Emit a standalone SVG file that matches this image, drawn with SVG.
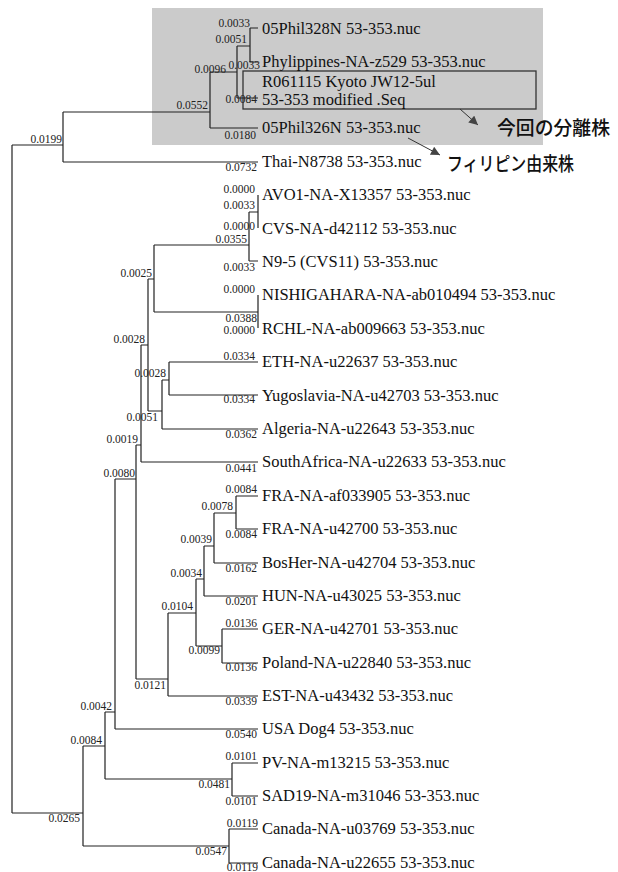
<svg xmlns="http://www.w3.org/2000/svg" width="618" height="872" viewBox="0 0 618 872">
<defs>
<style>
.edge{fill:none;stroke:#222;stroke-width:1.2}
.leaf{font-family:"Liberation Serif","Times New Roman",serif;font-size:16.5px;fill:#111}
.bl{font-family:"Liberation Serif","Times New Roman",serif;font-size:11.5px;fill:#222;text-anchor:end}
.jp{font-family:"Noto Sans CJK JP","Noto Sans",sans-serif;font-size:19px;font-weight:500;fill:#111}
.call{fill:none;stroke:#333;stroke-width:1}
</style>
<marker id="ah" viewBox="0 0 10 10" refX="10" refY="5" markerWidth="10" markerHeight="9" markerUnits="userSpaceOnUse" orient="auto">
<path d="M0,0 L10,5 L0,10 z" fill="#444"/>
</marker>
</defs>
<rect width="618" height="872" fill="#fff"/>
<g id="highlight">
<rect x="152" y="8" width="391" height="137" fill="#cbcbcb"/>
<rect x="243" y="71" width="293" height="38" fill="none" stroke="#333" stroke-width="1.3"/>
</g>
<g id="connectors">
<path class="edge" d="M12,145V813 M12,145H63 M12,813H83
M63,112V162 M63,112H210 M63,162H258
M210,72V128 M210,72H237 M210,128H258
M237,46V98 M237,46H250 M237,98H258
M250,28V62 M250,28H258 M250,62H258
M83,746V846 M83,746H105 M83,846H229
M229,829V863 M229,829H258 M229,863H258
M105,712V779 M105,712H115 M105,779H232
M232,763V796 M232,763H258 M232,796H258
M115,479V729 M115,479H136 M115,729H258
M136,445V679 M136,445H141 M136,679H168
M168,613V696 M168,613H196 M168,696H258
M196,579V646 M196,579H204 M196,646H222
M222,629V663 M222,629H258 M222,663H258
M204,546V596 M204,546H214 M204,596H258
M214,513V563 M214,513H236 M214,563H258
M236,496V529 M236,496H258 M236,529H258
M141,345V462 M141,345H148 M141,462H258
M148,279V411 M148,279H154 M148,411H162
M162,380V429 M162,380H169 M162,429H258
M169,362V395 M169,362H258 M169,395H258
M154,245V312 M154,245H249 M154,312H258
M258,295V328
M249,212V261 M249,212H258 M249,261H258
M258,195V228"/>
</g>
<g id="leaf-05Phil328N"><text class="leaf" x="262" y="34">05Phil328N 53-353.nuc</text></g>
<g id="leaf-Phylippines"><text class="leaf" x="262" y="67">Phylippines-NA-z529 53-353.nuc</text></g>
<g id="leaf-R061115"><text class="leaf" x="262" y="87">R061115 Kyoto JW12-5ul</text><text class="leaf" x="262" y="105">53-353 modified .Seq</text></g>
<g id="leaf-05Phil326N"><text class="leaf" x="262" y="133">05Phil326N 53-353.nuc</text></g>
<g id="leaf-Thai"><text class="leaf" x="262" y="167">Thai-N8738 53-353.nuc</text></g>
<g id="leaf-AVO1"><text class="leaf" x="262" y="200">AVO1-NA-X13357 53-353.nuc</text></g>
<g id="leaf-CVS"><text class="leaf" x="262" y="234">CVS-NA-d42112 53-353.nuc</text></g>
<g id="leaf-N9-5"><text class="leaf" x="262" y="267">N9-5 (CVS11) 53-353.nuc</text></g>
<g id="leaf-NISHIGAHARA"><text class="leaf" x="262" y="300">NISHIGAHARA-NA-ab010494 53-353.nuc</text></g>
<g id="leaf-RCHL"><text class="leaf" x="262" y="334">RCHL-NA-ab009663 53-353.nuc</text></g>
<g id="leaf-ETH"><text class="leaf" x="262" y="367">ETH-NA-u22637 53-353.nuc</text></g>
<g id="leaf-Yugoslavia"><text class="leaf" x="262" y="401">Yugoslavia-NA-u42703 53-353.nuc</text></g>
<g id="leaf-Algeria"><text class="leaf" x="262" y="434">Algeria-NA-u22643 53-353.nuc</text></g>
<g id="leaf-SouthAfrica"><text class="leaf" x="262" y="467">SouthAfrica-NA-u22633 53-353.nuc</text></g>
<g id="leaf-FRA-af033905"><text class="leaf" x="262" y="501">FRA-NA-af033905 53-353.nuc</text></g>
<g id="leaf-FRA-u42700"><text class="leaf" x="262" y="534">FRA-NA-u42700 53-353.nuc</text></g>
<g id="leaf-BosHer"><text class="leaf" x="262" y="568">BosHer-NA-u42704 53-353.nuc</text></g>
<g id="leaf-HUN"><text class="leaf" x="262" y="601">HUN-NA-u43025 53-353.nuc</text></g>
<g id="leaf-GER"><text class="leaf" x="262" y="634">GER-NA-u42701 53-353.nuc</text></g>
<g id="leaf-Poland"><text class="leaf" x="262" y="668">Poland-NA-u22840 53-353.nuc</text></g>
<g id="leaf-EST"><text class="leaf" x="262" y="701">EST-NA-u43432 53-353.nuc</text></g>
<g id="leaf-USA"><text class="leaf" x="262" y="734">USA Dog4 53-353.nuc</text></g>
<g id="leaf-PV"><text class="leaf" x="262" y="768">PV-NA-m13215 53-353.nuc</text></g>
<g id="leaf-SAD19"><text class="leaf" x="262" y="801">SAD19-NA-m31046 53-353.nuc</text></g>
<g id="leaf-Canada-u03769"><text class="leaf" x="262" y="834">Canada-NA-u03769 53-353.nuc</text></g>
<g id="leaf-Canada-u22655"><text class="leaf" x="262" y="868">Canada-NA-u22655 53-353.nuc</text></g>
<g id="branch-lengths">
<text class="bl" x="250" y="27">0.0033</text>
<text class="bl" x="247" y="43">0.0051</text>
<text class="bl" x="260" y="69">0.0033</text>
<text class="bl" x="226" y="73">0.0096</text>
<text class="bl" x="257" y="103">0.0084</text>
<text class="bl" x="208" y="109">0.0552</text>
<text class="bl" x="256" y="139">0.0180</text>
<text class="bl" x="62" y="143">0.0199</text>
<text class="bl" x="257" y="171">0.0732</text>
<text class="bl" x="255" y="193">0.0000</text>
<text class="bl" x="255" y="209">0.0033</text>
<text class="bl" x="255" y="230">0.0000</text>
<text class="bl" x="247" y="243">0.0355</text>
<text class="bl" x="255" y="271">0.0033</text>
<text class="bl" x="152" y="277">0.0025</text>
<text class="bl" x="255" y="293">0.0000</text>
<text class="bl" x="257" y="322">0.0388</text>
<text class="bl" x="255" y="334">0.0000</text>
<text class="bl" x="145" y="343">0.0028</text>
<text class="bl" x="255" y="360">0.0334</text>
<text class="bl" x="166" y="377">0.0028</text>
<text class="bl" x="255" y="403">0.0334</text>
<text class="bl" x="158" y="421">0.0051</text>
<text class="bl" x="257" y="438">0.0362</text>
<text class="bl" x="138" y="443">0.0019</text>
<text class="bl" x="257" y="472">0.0441</text>
<text class="bl" x="135" y="477">0.0080</text>
<text class="bl" x="257" y="493">0.0084</text>
<text class="bl" x="233" y="510">0.0078</text>
<text class="bl" x="257" y="538">0.0084</text>
<text class="bl" x="212" y="543">0.0039</text>
<text class="bl" x="257" y="572">0.0162</text>
<text class="bl" x="202" y="577">0.0034</text>
<text class="bl" x="257" y="605">0.0201</text>
<text class="bl" x="193" y="610">0.0104</text>
<text class="bl" x="257" y="627">0.0136</text>
<text class="bl" x="220" y="654">0.0099</text>
<text class="bl" x="257" y="671">0.0136</text>
<text class="bl" x="166" y="689">0.0121</text>
<text class="bl" x="257" y="705">0.0339</text>
<text class="bl" x="112" y="710">0.0042</text>
<text class="bl" x="257" y="738">0.0540</text>
<text class="bl" x="102" y="744">0.0084</text>
<text class="bl" x="257" y="760">0.0101</text>
<text class="bl" x="230" y="788">0.0481</text>
<text class="bl" x="257" y="805">0.0101</text>
<text class="bl" x="80" y="822">0.0265</text>
<text class="bl" x="258" y="827">0.0119</text>
<text class="bl" x="227" y="855">0.0547</text>
<text class="bl" x="258" y="871">0.0119</text>
</g>
<g id="callout-isolate">
<line class="call" x1="460" y1="109" x2="478" y2="125" marker-end="url(#ah)"/>
<text class="jp" x="497" y="135" textLength="113" lengthAdjust="spacingAndGlyphs">今回の分離株</text>
</g>
<g id="callout-philippines">
<line class="call" x1="408" y1="138" x2="440" y2="155" marker-end="url(#ah)"/>
<text class="jp" x="447" y="171" textLength="127" lengthAdjust="spacingAndGlyphs">フィリピン由来株</text>
</g>
</svg>
